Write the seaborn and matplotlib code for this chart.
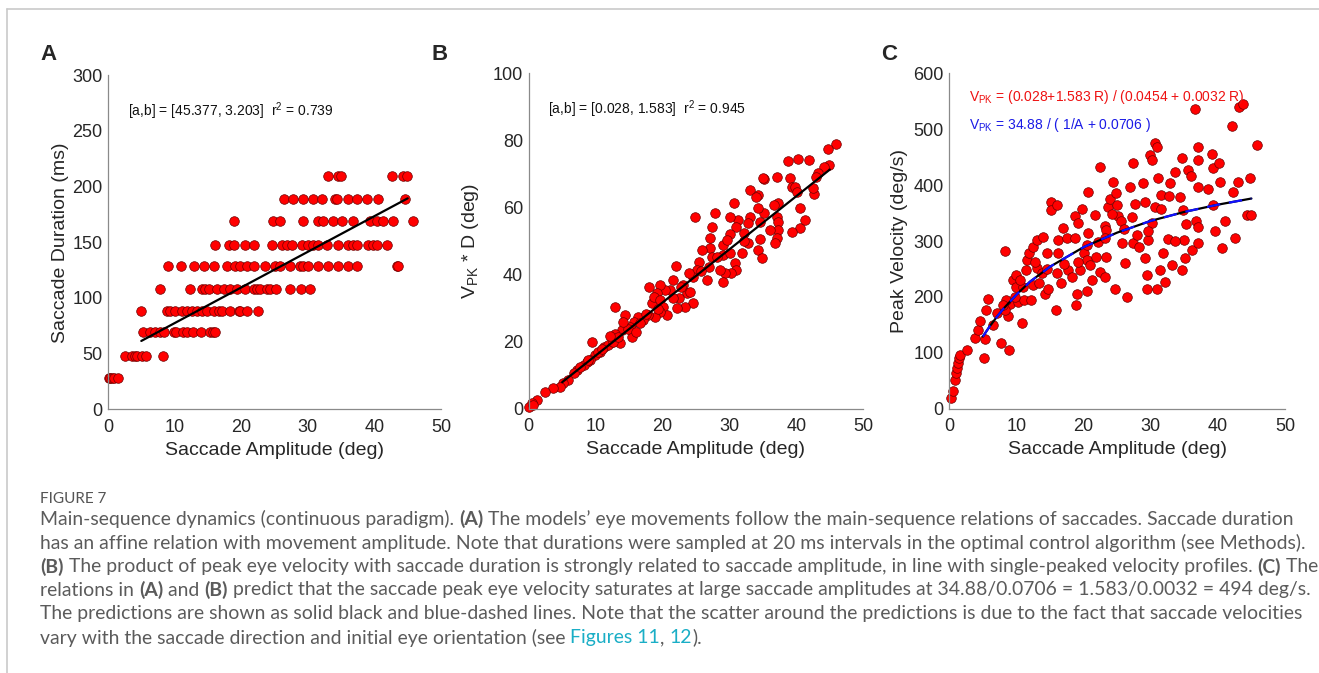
import matplotlib
matplotlib.use('Agg')
import matplotlib.pyplot as plt
import pandas as pd
import seaborn as sns

# Panel A - durations come in 20 ms steps, so amplitudes are kept per level
a_levels = [28, 48, 69, 88, 108, 129, 148, 169, 189, 210]
a_amp = [
    [0.1, 0.35, 0.6, 0.85, 1.45],
    [2.5, 3.6, 4.0, 4.35, 5.1, 5.7, 8.25],
    [5.25, 6.35, 7.1, 7.85, 8.35, 9.85, 10.25, 11.25, 11.85, 12.75, 14.0, 15.25, 15.75, 16.1],
    [5.0, 8.85, 9.35, 10.1, 11.1, 11.85, 12.6, 13.35, 14.1, 14.85, 15.85, 16.6, 17.1, 18.35,
     19.6, 19.85, 20.85, 22.5],
    [7.75, 12.25, 14.1, 14.6, 15.1, 16.35, 17.35, 18.35, 19.35, 20.6, 21.85, 22.35, 22.85,
     23.85, 24.35, 25.25, 27.35, 28.95, 30.35],
    [8.95, 10.95, 12.85, 14.35, 15.85, 17.85, 19.1, 19.85, 20.85, 21.85, 23.6, 25.1, 25.85,
     27.35, 28.85, 29.35, 30.1, 31.6, 33.1, 34.6, 36.1, 37.35, 43.35, 43.6],
    [16.1, 18.1, 18.85, 20.6, 21.85, 24.6, 26.1, 26.85, 27.6, 29.1, 30.1, 30.85, 31.6, 32.85,
     34.6, 36.1, 36.85, 37.35, 39.1, 39.85, 40.35, 41.95],
    [18.85, 24.75, 25.85, 29.25, 31.6, 32.35, 33.85, 35.1, 36.75, 39.35, 40.35, 41.35, 42.85, 45.85],
    [26.45, 27.85, 29.35, 30.85, 32.1, 34.1, 34.45, 36.1, 37.35, 38.85, 40.6, 44.6],
    [33.0, 34.6, 34.95, 42.6, 44.35, 44.95],
]
a_fit_x = [5, 45]
a_fit_y = [61.4, 189.5]

# Panel B - peak velocity * duration
b_amp = [45.9, 44.7, 44.8, 44.2, 43.3, 43.0, 42.6, 42.5, 41.9, 40.3, 38.7, 39.0, 39.3, 39.8, 40.1,
         40.5, 40.5, 39.4, 41.3, 37.1, 35.1, 35.0, 34.3, 33.1, 33.9, 37.3, 36.6, 37.1, 37.3, 37.3,
         37.1, 36.8, 36.1, 35.1, 34.6, 34.5, 34.3, 34.9, 34.3, 33.1, 32.8, 32.1, 32.8, 31.8, 31.3,
         30.7, 31.0, 30.1, 30.1, 29.1, 29.1, 29.6, 30.1, 30.8, 31.0, 30.3, 29.3, 29.1, 28.6, 27.9,
         27.4, 27.1, 27.1, 27.4, 26.9, 25.9, 24.9, 25.4, 25.1, 26.6, 24.6, 23.9, 23.1, 23.6, 24.1,
         24.6, 23.4, 22.1, 22.4, 22.0, 21.6, 21.1, 20.4, 19.6, 19.1, 18.4, 18.0, 18.7, 19.6, 20.1,
         20.7, 19.6, 18.9, 17.9, 17.1, 16.4, 15.7, 15.1, 14.4, 12.9, 13.9, 15.4, 13.7, 12.9, 12.4,
         11.2, 10.7, 9.4, 9.9, 9.2, 8.7, 8.2, 7.2, 6.7, 5.9, 5.2, 4.7, 3.7, 2.4, 1.2,
         0.45, 0.05, 0.7, 11.9, 12.6, 13.3, 14.9, 16.7, 17.5, 21.5, 22.8, 25.8, 28.2, 32.1, 10.4,
         11.0, 7.7, 8.9, 12.1, 14.1, 16.1, 19.3]
b_vd = [78.9, 77.4, 72.7, 72.2, 70.4, 69.2, 63.9, 65.7, 74.2, 74.4, 74.0, 68.9, 66.2, 66.2, 64.7,
        59.7, 53.8, 52.8, 56.3, 69.2, 68.4, 68.9, 63.7, 65.2, 63.2, 61.2, 60.7, 57.3, 55.8, 53.3,
        50.8, 49.3, 53.3, 58.3, 55.8, 50.5, 47.3, 44.8, 59.7, 57.3, 55.3, 52.3, 49.3, 46.3, 56.3,
        61.2, 54.3, 57.3, 52.0, 48.8, 45.8, 50.3, 46.3, 43.3, 41.3, 40.4, 40.4, 37.9, 41.4, 58.3,
        54.3, 50.8, 47.8, 45.3, 42.3, 47.3, 57.3, 43.8, 41.4, 38.4, 39.4, 40.4, 36.9, 34.4, 34.9,
        31.4, 30.4, 29.9, 32.9, 42.5, 38.4, 35.4, 35.4, 36.9, 34.4, 31.4, 36.4, 33.4, 32.4, 30.4,
        27.9, 28.9, 27.4, 27.9, 26.4, 27.4, 25.9, 24.5, 27.9, 30.4, 23.5, 21.5, 19.5, 22.4, 20.0,
        18.5, 17.0, 20.0, 16.0, 14.5, 14.0, 13.0, 11.5, 10.5, 8.5, 7.6, 6.6, 6.1, 5.1, 2.6,
        1.6, 0.6, 1.1, 18.9, 19.9, 21.3, 23.8, 25.6, 28.1, 33.1, 36.3, 41.1, 45.1, 50.1, 16.9,
        17.9, 12.4, 14.6, 21.6, 25.8, 22.9, 29.8]
b_fit_x = [5, 45]
b_fit_y = [7.9, 71.3]

# Panel C - peak velocity
c_amp = [0.25, 0.5, 0.85, 1.0, 1.2, 1.35, 1.5, 1.6, 2.6, 3.8, 4.3, 4.6, 5.1, 5.3, 5.4, 5.8, 6.55,
         7.05, 7.65, 8.3, 8.9, 8.8, 9.0, 8.5, 8.3, 8.0, 9.5, 10.0, 10.0, 10.3, 10.9, 11.1, 11.0,
         11.4, 11.6, 11.8, 12.2, 12.4, 12.5, 13.0, 13.0, 13.3, 13.8, 14.0, 14.5, 14.2, 14.7, 15.2,
         15.2, 16.0, 16.0, 15.9, 16.2, 16.2, 16.7, 17.0, 17.5, 17.7, 18.3, 18.7, 18.7, 18.9, 19.0,
         19.2, 19.5, 19.7, 20.0, 20.5, 20.5, 20.7, 20.7, 21.2, 21.7, 21.9, 22.4, 22.4, 23.2, 23.2,
         23.4, 23.7, 23.9, 24.4, 24.7, 24.9, 25.2, 25.7, 26.2, 26.4, 26.9, 27.4, 27.4, 27.7, 27.9,
         28.9, 29.1, 29.1, 29.4, 29.4, 29.6, 29.9, 30.2, 30.2, 30.6, 31.0, 30.9, 31.1, 31.4, 31.6,
         31.9, 32.1, 32.6, 32.9, 33.1, 33.6, 34.3, 34.7, 34.6, 34.9, 35.1, 35.5, 36.1, 36.6, 37.1,
         37.1, 37.1, 37.1, 36.8, 39.1, 39.3, 39.6, 39.3, 40.1, 40.3, 40.6, 41.1, 42.1, 42.3, 42.5,
         43.0, 43.2, 43.7, 44.3, 44.8, 44.9, 45.9, 19.2, 20.5, 22.2, 23.4, 24.3, 25.6, 26.0, 28.2,
         30.6, 31.6, 33.6, 34.8, 35.3, 36.0, 37.0, 38.6, 12.8, 14.5, 17.1, 21.0, 23.2, 25.0, 27.2,
         29.6, 32.7, 10.6, 9.8]
c_vpk = [20, 32, 51, 63, 72, 81, 90, 96, 105, 127, 141, 157, 91, 125, 177, 197, 150, 171, 118,
         283, 105, 166, 188, 194, 177, 185, 230, 218, 239, 191, 153, 194, 218, 248, 266, 278, 194,
         221, 290, 302, 251, 224, 242, 308, 278, 206, 215, 370, 355, 364, 242, 177, 278, 302, 224,
         323, 305, 248, 236, 344, 305, 185, 206, 332, 248, 358, 278, 266, 211, 388, 314, 230, 347,
         272, 433, 245, 326, 236, 272, 361, 376, 406, 215, 385, 344, 296, 260, 200, 397, 439, 296,
         367, 311, 403, 370, 269, 239, 215, 302, 454, 445, 332, 476, 469, 215, 412, 248, 382, 278,
         227, 303, 403, 257, 424, 379, 248, 448, 302, 269, 427, 284, 537, 469, 445, 397, 296, 335,
         456, 430, 317, 364, 439, 406, 287, 335, 505, 388, 305, 406, 540, 545, 346, 412, 346, 471,
         262, 292, 298, 320, 348, 335, 322, 290, 360, 357, 300, 355, 330, 416, 325, 393, 262, 250,
         258, 257, 305, 364, 343, 317, 380, 230, 200]
c_fit_x = [5, 6, 7, 8, 10, 12, 15, 20, 25, 30, 35, 40, 45]
c_fit_y = [129, 147, 163, 178, 204, 227, 254, 289, 315, 336, 352, 365, 376]

W, H = 1319, 673
sns.set_style('white')
plt.rcParams['font.family'] = ['Liberation Sans', 'DejaVu Sans']
plt.rcParams['mathtext.fontset'] = 'custom'
plt.rcParams['mathtext.rm'] = 'Liberation Sans'
plt.rcParams['mathtext.it'] = 'Liberation Sans:italic'

fig = plt.figure(figsize=(W / 100, H / 100), dpi=100)

RED = '#ff0000'
EDGE = '#6b0000'
AXC = '#8a8a8a'


def make_ax(x0, x1, y0, y1):
    # pixel box -> figure fraction
    return fig.add_axes([x0 / W, 1 - y1 / H, (x1 - x0) / W, (y1 - y0) / H])


def style(ax, ymax, ystep, ylab, ylab_x):
    ax.set_xlim(0, 50)
    ax.set_ylim(0, ymax)
    ax.set_xticks(range(0, 51, 10))
    ax.set_yticks(range(0, ymax + 1, ystep))
    for s in ['top', 'right']:
        ax.spines[s].set_visible(False)
    for s in ['left', 'bottom']:
        ax.spines[s].set_color(AXC)
        ax.spines[s].set_linewidth(0.9)
    ax.tick_params(direction='in', length=4, width=0.9, color=AXC,
                   labelsize=13, labelcolor='#262626')
    ax.tick_params(axis='x', pad=7)
    ax.tick_params(axis='y', pad=4)
    ax.set_xlabel('Saccade Amplitude (deg)', fontsize=14, color='#262626')
    ax.set_ylabel(ylab, fontsize=14, color='#262626')
    ax.xaxis.set_label_coords(0.5, -0.122)
    ax.xaxis.label.set_va('center')
    ax.yaxis.set_label_coords(ylab_x, 0.5)
    ax.yaxis.label.set_va('center')


def dots(ax, x, y):
    sns.scatterplot(x=x, y=y, ax=ax, color=RED, edgecolor=EDGE, linewidth=0.5,
                    s=48, legend=False, zorder=2, clip_on=False)


# ---- A
axA = make_ax(108, 441, 75.3, 409.3)
dfa = pd.DataFrame([(x, lvl) for lvl, xs in zip(a_levels, a_amp) for x in xs],
                   columns=['amp', 'dur'])
dots(axA, dfa['amp'], dfa['dur'])
sns.lineplot(x=a_fit_x, y=a_fit_y, ax=axA, color='black', lw=1.6, zorder=3)
style(axA, 300, 50, 'Saccade Duration (ms)', -0.144)
axA.text(0.059, 0.893, '[a,b] = [45.377, 3.203]  r$^2$ = 0.739', transform=axA.transAxes,
         fontsize=10, va='center', color='#111111')

# ---- B
axB = make_ax(528.7, 863.3, 73.3, 408.7)
dots(axB, b_amp, b_vd)
sns.lineplot(x=b_fit_x, y=b_fit_y, ax=axB, color='black', lw=1.6, zorder=3)
style(axB, 100, 20, r'V$_{\mathrm{PK}}$ * D (deg)', -0.175)
axB.text(0.058, 0.893, '[a,b] = [0.028, 1.583]  r$^2$ = 0.945', transform=axB.transAxes,
         fontsize=10, va='center', color='#111111')

# ---- C
axC = make_ax(949.3, 1285, 73.3, 408.7)
dots(axC, c_amp, c_vpk)
sns.lineplot(x=c_fit_x, y=c_fit_y, ax=axC, color='black', lw=1.6, zorder=3)
sns.lineplot(x=c_fit_x, y=c_fit_y, ax=axC, color='#1010ff', lw=1.6, zorder=4,
             dashes=False, linestyle=(0, (6, 4)))
style(axC, 600, 100, 'Peak Velocity (deg/s)', -0.147)
axC.text(0.059, 0.93, r'V$_{\mathrm{PK}}$ = (0.028+1.583 R) / (0.0454 + 0.0032 R)',
         transform=axC.transAxes, fontsize=10, va='center', color='#ee1111')
axC.text(0.059, 0.846, r'V$_{\mathrm{PK}}$ = 34.88 / ( 1/A + 0.0706 )',
         transform=axC.transAxes, fontsize=10, va='center', color='#1a1ae6')

# panel letters
for lab, px in [('A', 40), ('B', 432), ('C', 881)]:
    fig.text(px / W, 1 - 54 / H, lab, fontsize=16, fontweight='bold', va='center', ha='left')

# frame lines of the page
fig.add_artist(plt.Line2D([7 / W, 1], [1 - 9 / H, 1 - 9 / H], color='#c9c9c9', lw=1.2))
fig.add_artist(plt.Line2D([7 / W, 7 / W], [0, 1 - 9 / H], color='#c9c9c9', lw=1.2))

# ---- caption
CAP_FONT = ['Lato', 'DejaVu Sans']
GREY = '#5b5b5b'
CYAN = '#1aaec6'
renderer = fig.canvas.get_renderer()


def width(txt, size, bold=False):
    wt = 'bold' if bold else 'normal'
    t = fig.text(0, 0, '|' + txt + '|', fontsize=size, fontweight=wt, family=CAP_FONT)
    t2 = fig.text(0, 0, '||', fontsize=size, fontweight=wt, family=CAP_FONT)
    w = t.get_window_extent(renderer).width - t2.get_window_extent(renderer).width
    t.remove()
    t2.remove()
    return w


cap_lines = [
    [('Main-sequence dynamics (continuous paradigm). ', 0, GREY), ('(A)', 1, GREY),
     (' The models\u2019 eye movements follow the main-sequence relations of saccades. Saccade duration', 0, GREY)],
    [('has an affine relation with movement amplitude. Note that durations were sampled at 20 ms '
      'intervals in the optimal control algorithm (see Methods).', 0, GREY)],
    [('(B)', 1, GREY), (' The product of peak eye velocity with saccade duration is strongly related to '
                        'saccade amplitude, in line with single-peaked velocity profiles. ', 0, GREY),
     ('(C)', 1, GREY), (' The', 0, GREY)],
    [('relations in ', 0, GREY), ('(A)', 1, GREY), (' and ', 0, GREY), ('(B)', 1, GREY),
     (' predict that the saccade peak eye velocity saturates at large saccade amplitudes at '
      '34.88/0.0706 = 1.583/0.0032 = 494 deg/s.', 0, GREY)],
    [('The predictions are shown as solid black and blue-dashed lines. Note that the scatter around '
      'the predictions is due to the fact that saccade velocities', 0, GREY)],
    [('vary with the saccade direction and initial eye orientation (see ', 0, GREY),
     ('Figures 11', 0, CYAN), (', ', 0, GREY), ('12', 0, CYAN), (').', 0, GREY)],
]
line_y = [519, 543, 566.5, 590, 614, 637.5]
line_end = [1307, 1303, 1313, 1300, 1305, 714]

# one font size for all lines, small enough that every line ends where it does in the figure
sizes = []
for runs, xe in zip(cap_lines, line_end):
    w12 = sum(width(t, 12, b) for t, b, c in runs)
    sizes.append(12 * (xe - 40) / w12)
cap_size = min(sizes)

for runs, y in zip(cap_lines, line_y):
    x = 40
    for txt, b, col in runs:
        fig.text(x / W, 1 - y / H, txt, fontsize=cap_size, fontweight='bold' if b else 'normal',
                 color=col, va='center', ha='left', family=CAP_FONT)
        x += width(txt, cap_size, b)

fig.text(40 / W, 1 - 499 / H, 'FIGURE 7', fontsize=11, color='#555555',
         va='center', ha='left', family=CAP_FONT)

fig.savefig('out.png', dpi=100)
